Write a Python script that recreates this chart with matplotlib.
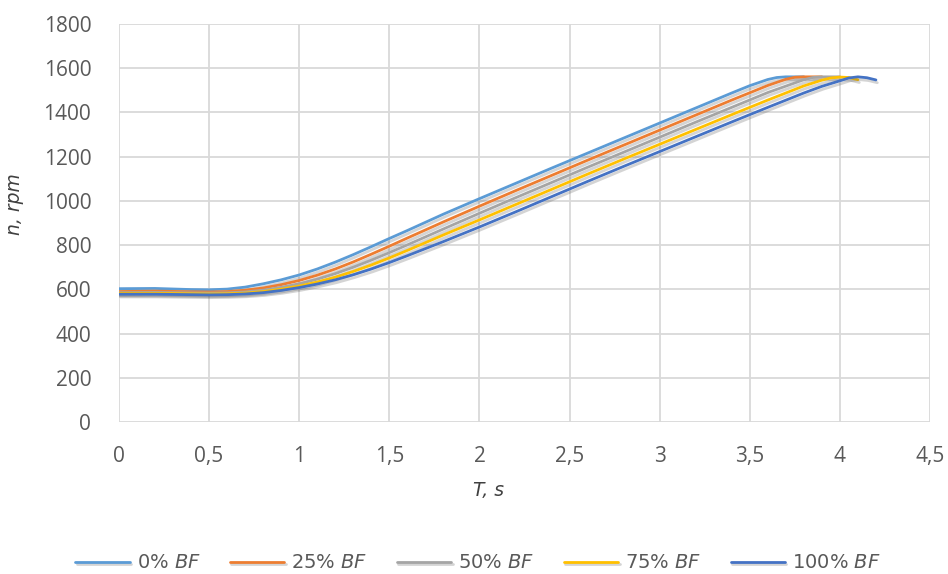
import matplotlib
matplotlib.use("Agg")
import matplotlib.pyplot as plt
import matplotlib.patheffects as pe

# values (rpm vs time), denser around the bends
t_0 = [0, 0.2, 0.4, 0.5, 0.6, 0.7, 0.8, 0.9, 1.0, 1.1, 1.2, 1.3, 1.4, 1.5, 1.6, 1.8, 2.0, 2.2, 2.4,
       2.6, 2.8, 3.0, 3.2, 3.4, 3.5, 3.6, 3.65, 3.7, 3.8]
n_0 = [603, 604, 599, 598, 601, 610, 625, 643, 665, 692, 723, 757, 793, 830, 866, 940, 1010, 1079, 1148,
       1216, 1284, 1352, 1420, 1488, 1521, 1549, 1558, 1561, 1561]

t_25 = [0, 0.2, 0.4, 0.5, 0.6, 0.7, 0.8, 0.9, 1.0, 1.1, 1.2, 1.3, 1.4, 1.5, 1.6, 1.8, 2.0, 2.2, 2.4,
        2.6, 2.8, 3.0, 3.2, 3.4, 3.6, 3.7, 3.75, 3.8, 3.9]
n_25 = [590, 592, 589, 588, 590, 596, 606, 621, 640, 664, 692, 724, 759, 795, 832, 905, 976, 1046, 1115,
        1184, 1252, 1320, 1388, 1456, 1522, 1550, 1559, 1561, 1561]

t_50 = [0, 0.2, 0.4, 0.5, 0.6, 0.7, 0.8, 0.9, 1.0, 1.1, 1.2, 1.3, 1.4, 1.5, 1.6, 1.8, 2.0, 2.2, 2.4,
        2.6, 2.8, 3.0, 3.2, 3.4, 3.6, 3.8, 3.85, 3.9, 4.0]
n_50 = [585, 586, 584, 583, 584, 588, 596, 609, 625, 646, 671, 700, 732, 766, 801, 873, 944, 1014, 1083,
        1152, 1220, 1288, 1356, 1423, 1490, 1548, 1558, 1561, 1561]

t_75 = [0, 0.2, 0.4, 0.5, 0.6, 0.7, 0.8, 0.9, 1.0, 1.1, 1.2, 1.3, 1.4, 1.5, 1.6, 1.8, 2.0, 2.2, 2.4,
        2.6, 2.8, 3.0, 3.2, 3.4, 3.6, 3.8, 3.9, 3.95, 4.0, 4.05, 4.1]
n_75 = [582, 582, 580, 579, 580, 583, 590, 601, 615, 633, 655, 681, 710, 742, 776, 846, 914, 983, 1052,
        1121, 1189, 1256, 1323, 1390, 1456, 1520, 1546, 1556, 1560, 1558, 1548]

t_100 = [0, 0.2, 0.4, 0.5, 0.6, 0.7, 0.8, 0.9, 1.0, 1.1, 1.2, 1.3, 1.4, 1.5, 1.6, 1.8, 2.0, 2.2, 2.4,
         2.6, 2.8, 3.0, 3.2, 3.4, 3.6, 3.8, 3.9, 4.0, 4.05, 4.1, 4.15, 4.2]
n_100 = [578, 578, 576, 575, 576, 579, 585, 595, 608, 624, 643, 666, 692, 721, 752, 816, 882, 950, 1019,
         1088, 1156, 1223, 1290, 1357, 1423, 1488, 1518, 1543, 1556, 1561, 1557, 1547]

labels = ["0%", "25%", "50%", "75%", "100%"]
colors = ["#5B9BD5", "#ED7D31", "#A5A5A5", "#FFC000", "#4472C4"]
series = [(t_0, n_0), (t_25, n_25), (t_50, n_50), (t_75, n_75), (t_100, n_100)]

x_ticks = [0, 0.5, 1, 1.5, 2, 2.5, 3, 3.5, 4, 4.5]
x_ticklabels = ["0", "0,5", "1", "1,5", "2", "2,5", "3", "3,5", "4", "4,5"]
y_ticks = [0, 200, 400, 600, 800, 1000, 1200, 1400, 1600, 1800]

fig = plt.figure(figsize=(9.48, 5.74), dpi=100)
ax = fig.add_axes([119 / 948, 1 - 422 / 574, (930 - 119) / 948, (422 - 24) / 574])

for (t, n), lab, c in zip(series, labels, colors):
    ax.plot(t, n, color=c, lw=2, label=lab + r" $\it{BF}$", solid_capstyle="round",
            path_effects=[pe.SimpleLineShadow(offset=(1, -2), shadow_color="#555555", alpha=0.25),
                          pe.Normal()])

ax.set_xlim(0, 4.5)
ax.set_ylim(0, 1800)
ax.set_xticks(x_ticks)
ax.set_xticklabels(x_ticklabels)
ax.set_yticks(y_ticks)
ax.grid(True, color="#D9D9D9", lw=1.3)
ax.set_axisbelow(True)
for s in ax.spines.values():
    s.set_visible(False)
ax.tick_params(length=0, labelsize=15, labelcolor="#595959")
ax.tick_params(axis="x", pad=17)
ax.tick_params(axis="y", pad=20)
for lbl in ax.get_xticklabels() + ax.get_yticklabels():
    lbl.set_family("Open Sans")

fig.text(15 / 948, 1 - 204 / 574, "n, rpm", rotation=90, ha="center", va="center",
         fontsize=13.5, style="italic", color="#404040")
fig.text(488 / 948, 1 - 490 / 574, "T, s", ha="center", va="center",
         fontsize=13.5, style="italic", color="#404040")

leg = fig.legend(loc="center", bbox_to_anchor=(478 / 948, 1 - 563 / 574), ncol=5, frameon=False,
                 handlelength=2.8, handletextpad=0.36, columnspacing=1.5,
                 borderpad=0.2, prop={"size": 14})
for txt in leg.get_texts():
    txt.set_color("#595959")

fig.savefig("out.png", dpi=100)
